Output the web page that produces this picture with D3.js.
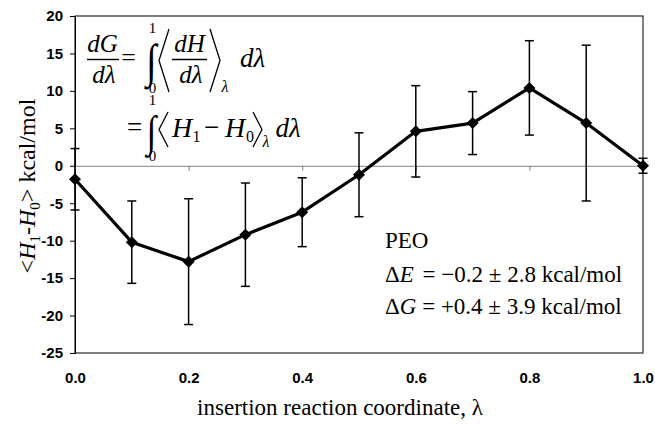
<!DOCTYPE html>
<html>
<head>
<meta charset="utf-8">
<script src="https://cdn.jsdelivr.net/npm/d3@7"></script>
<style>
  html, body { margin: 0; padding: 0; background: #fff; }
  svg { display: block; }
  .serif { font-family: "Liberation Serif", "Times New Roman", serif; fill: #000; }
  .tick text { font-family: "Liberation Sans", Arial, sans-serif; font-weight: bold; fill: #000; }
</style>
</head>
<body>
<svg id="chart" width="655" height="425"></svg>
<script>
// Insertion reaction coordinate and the ensemble average <H1 - H0> (kcal/mol)
const lambdas = [0.0, 0.1, 0.2, 0.3, 0.4, 0.5, 0.6, 0.7, 0.8, 0.9, 1.0];
const meanDH  = [-1.8, -10.2, -12.8, -9.2, -6.2, -1.2, 4.6, 5.7, 10.4, 5.7, 0.0];
const errDH   = [4.1, 5.5, 8.4, 6.9, 4.6, 5.6, 6.1, 4.2, 6.3, 10.4, 1.0];

const xTicks = [0.0, 0.2, 0.4, 0.6, 0.8, 1.0];
const yTicks = [-25, -20, -15, -10, -5, 0, 5, 10, 15, 20];

const W = 655, H = 425;
const plot = { left: 75, right: 643, top: 16, bottom: 353 };

const svg = d3.select("#chart");
svg.append("rect").attr("width", W).attr("height", H).attr("fill", "#fff");

const x = d3.scaleLinear().domain([0, 1]).range([plot.left, plot.right]);
const y = d3.scaleLinear().domain([-25, 20]).range([plot.bottom, plot.top]);

// Frame around the plot area
svg.append("rect")
  .attr("x", plot.left).attr("y", plot.top)
  .attr("width", plot.right - plot.left).attr("height", plot.bottom - plot.top)
  .attr("fill", "none").attr("stroke", "#000").attr("stroke-width", 1);

// Y axis
const yAxis = svg.append("g")
  .attr("transform", `translate(${plot.left},0)`)
  .call(d3.axisLeft(y).tickValues(yTicks).tickSize(5).tickPadding(7).tickFormat(d => String(d)));
yAxis.select(".domain").attr("stroke", "#000");
yAxis.selectAll(".tick line").attr("stroke", "#000");
yAxis.selectAll(".tick text").attr("font-size", 15);

// Zero line with its tick marks (gray)
const zeroAxis = svg.append("g")
  .attr("transform", `translate(0,${y(0)})`)
  .call(d3.axisBottom(x).tickValues(xTicks).tickSize(5).tickSizeOuter(0).tickFormat(""));
zeroAxis.select(".domain").attr("stroke", "#808080");
zeroAxis.selectAll(".tick line").attr("stroke", "#808080");

// X tick labels along the bottom of the frame
const xLabels = svg.append("g")
  .attr("transform", `translate(0,${plot.bottom})`)
  .call(d3.axisBottom(x).tickValues(xTicks).tickSize(0).tickPadding(19).tickFormat(d3.format(".1f")));
xLabels.select(".domain").remove();
xLabels.selectAll(".tick text").attr("font-size", 15);

const pts = lambdas.map((l, i) => ({ l, m: meanDH[i], e: errDH[i] }));

// Error bars
const eb = svg.append("g").attr("stroke", "#000").attr("stroke-width", 1.5).attr("fill", "none");
const capW = 4.5;
pts.forEach(p => {
  const cx = x(p.l), yt = y(p.m + p.e), yb = y(p.m - p.e);
  eb.append("line").attr("x1", cx).attr("x2", cx).attr("y1", yt).attr("y2", yb);
  eb.append("line").attr("x1", cx - capW).attr("x2", cx + capW).attr("y1", yt).attr("y2", yt);
  eb.append("line").attr("x1", cx - capW).attr("x2", cx + capW).attr("y1", yb).attr("y2", yb);
});

// Connecting line
svg.append("path")
  .datum(pts)
  .attr("fill", "none").attr("stroke", "#000").attr("stroke-width", 3.2)
  .attr("stroke-linejoin", "round")
  .attr("d", d3.line().x(d => x(d.l)).y(d => y(d.m)));

// Diamond markers
svg.append("g").selectAll("path")
  .data(pts).join("path")
  .attr("transform", d => `translate(${x(d.l)},${y(d.m)})`)
  .attr("d", "M0,-6L6,0L0,6L-6,0Z")
  .attr("fill", "#000");

// Axis titles
svg.append("text").attr("class", "serif")
  .attr("x", 340).attr("y", 415).attr("text-anchor", "middle").attr("font-size", 23)
  .text("insertion reaction coordinate, λ");

const yt = svg.append("text").attr("class", "serif")
  .attr("transform", "translate(35,186) rotate(-90)")
  .attr("text-anchor", "middle").attr("font-size", 24);
yt.append("tspan").text("<");
yt.append("tspan").attr("font-style", "italic").text("H");
yt.append("tspan").attr("font-size", 15).attr("dy", 5).text("1");
yt.append("tspan").attr("dy", -5).text("-");
yt.append("tspan").attr("font-style", "italic").text("H");
yt.append("tspan").attr("font-size", 15).attr("dy", 5).text("0");
yt.append("tspan").attr("dy", -5).text("> kcal/mol");

// Result annotation
const ann = svg.append("g").attr("class", "serif").attr("font-size", 23);
ann.append("text").attr("x", 385).attr("y", 248).text("PEO");
const l1 = ann.append("text").attr("x", 385).attr("y", 282);
l1.append("tspan").text("Δ");
l1.append("tspan").attr("font-style", "italic").text("E");
l1.append("tspan").attr("dx", 3).text(" = −0.2 ± 2.8 kcal/mol");
const l2 = ann.append("text").attr("x", 385).attr("y", 314);
l2.append("tspan").text("Δ");
l2.append("tspan").attr("font-style", "italic").text("G");
l2.append("tspan").text(" = +0.4 ± 3.9 kcal/mol");

// Thermodynamic integration formula
const eq = svg.append("g").attr("class", "serif");
function t(xp, yp, s, size, opts = {}) {
  const el = eq.append("text").attr("x", xp).attr("y", yp).attr("font-size", size)
    .attr("text-anchor", opts.anchor || "middle").text(s);
  if (opts.italic) el.attr("font-style", "italic");
  return el;
}
function bar(x1, x2, yp) {
  eq.append("line").attr("x1", x1).attr("x2", x2).attr("y1", yp).attr("y2", yp)
    .attr("stroke", "#000").attr("stroke-width", 1.4);
}
function bracket(xa, xb, y1, y2) {
  const ym = (y1 + y2) / 2;
  eq.append("path").attr("d", `M${xb},${y1}L${xa},${ym}L${xb},${y2}`)
    .attr("fill", "none").attr("stroke", "#000").attr("stroke-width", 1.3);
}
function integral(xc, y1, y2) {
  const fs = (y2 - y1) / 1.08;
  eq.append("text").attr("font-size", fs)
    .attr("font-family", "'Liberation Serif', serif")
    .attr("text-anchor", "middle")
    .attr("transform", `translate(${xc},${y2 - 0.17 * fs}) scale(0.8,1)`)
    .text("∫");
}
// line 1
t(102.5, 52, "dG", 25, { italic: true });
bar(87, 119, 59.5);
t(104, 83, "dλ", 25, { italic: true });
t(128.5, 66, "=", 26);
integral(151.5, 34, 85);
t(152.5, 33, "1", 15);
t(152.5, 93, "0", 15);
bracket(159, 169, 29, 92);
t(189.5, 52, "dH", 25, { italic: true });
bar(172, 207, 59.5);
t(191, 83, "dλ", 25, { italic: true });
bracket(220, 210, 29, 92);
t(225, 92, "λ", 16, { italic: true });
t(252.5, 67, "dλ", 27, { italic: true });
// line 2
t(134.5, 136, "=", 27);
integral(151.5, 106, 153);
t(152.5, 105, "1", 15);
t(152.5, 161, "0", 15);
bracket(159, 168, 112, 147);
t(182, 137, "H", 28, { italic: true });
t(196.5, 142, "1", 16);
t(211.5, 136, "−", 27);
t(235, 137, "H", 28, { italic: true });
t(250, 142, "0", 16);
bracket(262, 253, 112, 147);
t(266, 147, "λ", 16, { italic: true });
t(288, 137, "dλ", 27, { italic: true });
</script>
</body>
</html>
